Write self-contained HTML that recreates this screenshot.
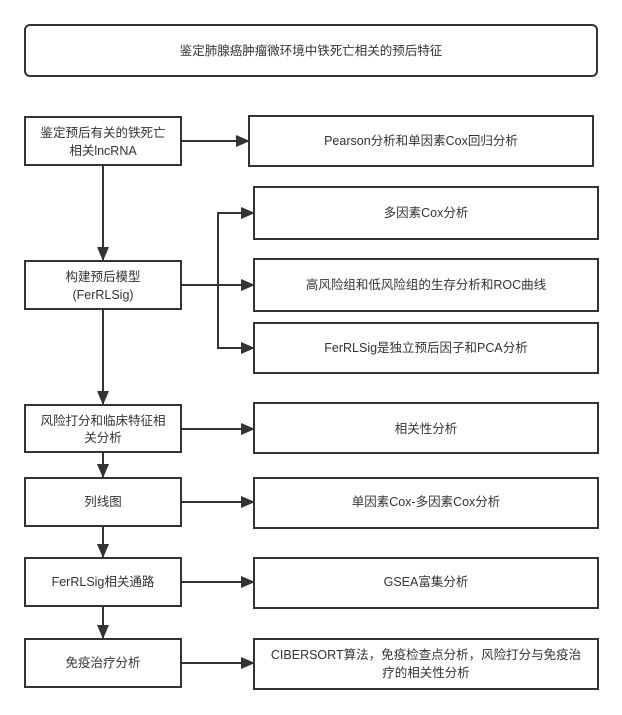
<!DOCTYPE html>
<html><head><meta charset="utf-8"><style>
html,body{margin:0;padding:0;background:#fff;}
svg{display:block;}
text{font-family:"Liberation Sans","Noto Sans CJK SC",sans-serif;font-size:12.5px;fill:#333;text-anchor:middle;dominant-baseline:central;}
</style></head><body>
<svg width="622" height="715" viewBox="0 0 622 715">
<defs><marker id="a" markerWidth="14" markerHeight="12" refX="13" refY="6" orient="auto" markerUnits="userSpaceOnUse"><path d="M0,0 L14,6 L0,12 z" fill="#333"/></marker></defs>
<g fill="none" stroke="#333" stroke-width="2">
<rect x="25" y="25" width="572" height="51" rx="5"/>
<rect x="25" y="117" width="156" height="48"/>
<rect x="25" y="261" width="156" height="48"/>
<rect x="25" y="405" width="156" height="47"/>
<rect x="25" y="478" width="156" height="48"/>
<rect x="25" y="558" width="156" height="48"/>
<rect x="25" y="639" width="156" height="48"/>
<rect x="249" y="116" width="344" height="50"/>
<rect x="254" y="187" width="344" height="52"/>
<rect x="254" y="259" width="344" height="52"/>
<rect x="254" y="323" width="344" height="50"/>
<rect x="254" y="403" width="344" height="50"/>
<rect x="254" y="478" width="344" height="50"/>
<rect x="254" y="558" width="344" height="50"/>
<rect x="254" y="639" width="344" height="50"/>
<g marker-end="url(#a)">
<line x1="103" y1="165" x2="103" y2="260"/>
<line x1="103" y1="309" x2="103" y2="404"/>
<line x1="103" y1="452" x2="103" y2="477"/>
<line x1="103" y1="526" x2="103" y2="557"/>
<line x1="103" y1="606" x2="103" y2="638"/>
<line x1="181" y1="141" x2="249" y2="141"/>
<line x1="181" y1="285" x2="254" y2="285"/>
<polyline points="218,285 218,213 254,213"/>
<polyline points="218,285 218,348 254,348"/>
<line x1="181" y1="429" x2="254" y2="429"/>
<line x1="181" y1="502" x2="254" y2="502"/>
<line x1="181" y1="582" x2="254" y2="582"/>
<line x1="181" y1="663" x2="254" y2="663"/>
</g>
</g>
<text x="311" y="51">鉴定肺腺癌肿瘤微环境中铁死亡相关的预后特征</text>
<text x="103" y="133">鉴定预后有关的铁死亡</text>
<text x="103" y="151">相关lncRNA</text>
<text x="103" y="277">构建预后模型</text>
<text x="103" y="295">(FerRLSig)</text>
<text x="103" y="421">风险打分和临床特征相</text>
<text x="103" y="438">关分析</text>
<text x="103" y="502">列线图</text>
<text x="103" y="582">FerRLSig相关通路</text>
<text x="103" y="663">免疫治疗分析</text>
<text x="421" y="141">Pearson分析和单因素Cox回归分析</text>
<text x="426" y="213">多因素Cox分析</text>
<text x="426" y="285">高风险组和低风险组的生存分析和ROC曲线</text>
<text x="426" y="348">FerRLSig是独立预后因子和PCA分析</text>
<text x="426" y="429">相关性分析</text>
<text x="426" y="502">单因素Cox-多因素Cox分析</text>
<text x="426" y="582">GSEA富集分析</text>
<text x="426" y="655">CIBERSORT算法，免疫检查点分析，风险打分与免疫治</text>
<text x="426" y="673">疗的相关性分析</text>
</svg>
</body></html>
